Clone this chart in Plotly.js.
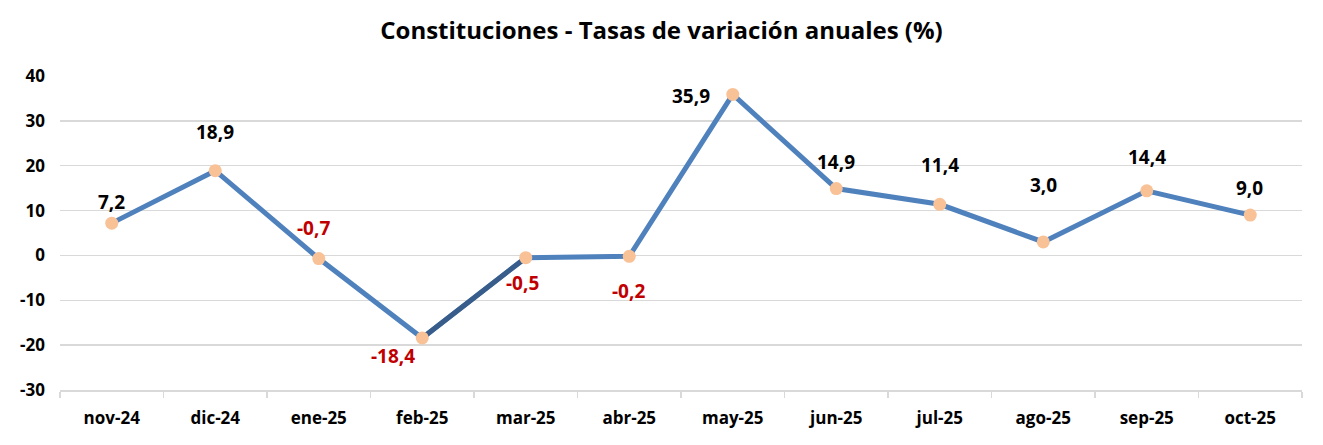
<!DOCTYPE html>
<html>
<head>
<meta charset="utf-8">
<script src="https://cdn.plot.ly/plotly-3.0.1.min.js"></script>
<style>html,body{margin:0;padding:0;background:#fff;}#chart{width:1323px;height:445px;}</style>
</head>
<body>
<div id="chart"></div>
<script>
const categories = ["nov-24","dic-24","ene-25","feb-25","mar-25","abr-25","may-25","jun-25","jul-25","ago-25","sep-25","oct-25"];
const values = [7.2, 18.9, -0.7, -18.4, -0.5, -0.2, 35.9, 14.9, 11.4, 3.0, 14.4, 9.0];
const labels = ["7,2","18,9","-0,7","-18,4","-0,5","-0,2","35,9","14,9","11,4","3,0","14,4","9,0"];
const yTicks = [-30,-20,-10,0,10,20,30,40];
// label offsets in px (style)
const labelDx = [0,0,-5,-29,-3,-1,-42,0,0,0,0,-1];
const labelDy = [21,39,31,-18,-25,-35,-2,27,39,57,34,27];

const FONT = "Open Sans, Calibri, Arial, sans-serif";
const darkIdx = [3,4];

const traces = [
  {x: categories, y: values, type: "scatter", mode: "lines",
   line: {color: "#4F81BD", width: 5}, hoverinfo: "skip", showlegend: false},
  {x: darkIdx.map(i => categories[i]), y: darkIdx.map(i => values[i]), type: "scatter", mode: "lines",
   line: {color: "#385D8A", width: 5}, hoverinfo: "skip", showlegend: false},
  {x: categories, y: values, type: "scatter", mode: "markers",
   marker: {color: "#F9C196", size: 13}, showlegend: false}
];

const annotations = categories.map((c, i) => ({
  x: c, y: values[i], text: "<b>" + labels[i] + "</b>", showarrow: false,
  xshift: labelDx[i], yshift: labelDy[i],
  font: {family: FONT, size: 19, color: values[i] < 0 ? "#C00000" : "#000000"}
}));

const layout = {
  width: 1323, height: 445,
  margin: {l: 60, r: 21, t: 76, b: 55},
  paper_bgcolor: "#ffffff", plot_bgcolor: "#ffffff",
  title: {text: "<b>Constituciones - Tasas de variación anuales (%)</b>", x: 0.5, xanchor: "center", y: 0.95,
          font: {family: FONT, size: 24, color: "#000000"}},
  xaxis: {type: "category", range: [-0.5, 11.5], showgrid: false, zeroline: false,
          showline: true, linecolor: "#D9D9D9", linewidth: 1.5,
          ticks: "outside", tickson: "boundaries", ticklen: 6, tickcolor: "#D9D9D9", tickwidth: 1.5,
          tickfont: {family: FONT, size: 17, color: "#000000", weight: "bold"}, ticklabelstandoff: 12},
  yaxis: {range: [-30, 40], tickvals: yTicks, ticktext: yTicks.map(v => "<b>" + v + "</b>"),
          showgrid: true, gridcolor: "#D9D9D9", gridwidth: 1.5, zeroline: false, showline: false,
          ticks: "", tickfont: {family: FONT, size: 17, color: "#000000"}, ticklabelstandoff: 14},
  annotations: annotations,
  hovermode: false
};

Plotly.newPlot("chart", traces, layout, {displayModeBar: false, staticPlot: true});
</script>
</body>
</html>
